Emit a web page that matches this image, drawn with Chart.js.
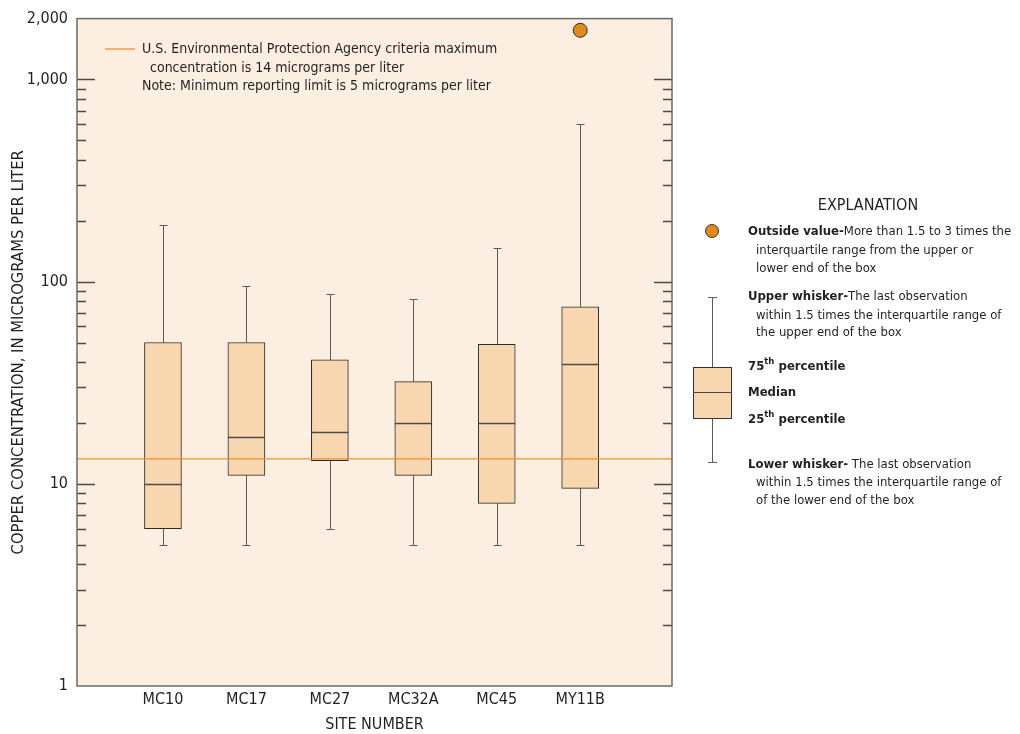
<!DOCTYPE html>
<html>
<head>
<meta charset="utf-8">
<script src="https://cdn.jsdelivr.net/npm/chart.js@4.4.0/dist/chart.umd.min.js"></script>
<style>
  html, body { margin: 0; padding: 0; background: #ffffff; }
  #wrap { width: 1020px; height: 734px; position: relative; }
</style>
</head>
<body>
<div id="wrap"><canvas id="grafico"></canvas></div>
<script>
// dados
const sites = ['MC10', 'MC17', 'MC27', 'MC32A', 'MC45', 'MY11B']
const whiskerLow = [5, 5, 6, 5, 5, 5]
const q1 = [6, 11, 13, 11, 8, 9.5]
const median = [10, 17, 18, 20, 20, 39]
const q3 = [50, 50, 41, 32, 49, 75]
const whiskerHigh = [190, 95, 87, 82, 147, 600]
const outlierSite = [6]
const outlierValue = [1750]
const criteria = 13.3
const yLabels = [1, 10, 100, 1000, 2000]

const FONT = '"Liberation Sans Narrow", "DejaVu Sans Condensed", "Roboto", sans-serif'
const TEXT = '#231f20'
const ORANGE = '#e8952c'

Chart.defaults.font.family = FONT
Chart.defaults.color = TEXT

const canvas = document.getElementById('grafico')

// pontos das caixas
const boxData = sites.map((s, i) => ({ x: i + 1, y: [q1[i], q3[i]] }))
const outData = outlierSite.map((s, i) => ({ x: s, y: outlierValue[i] }))

// fundo da area do grafico
const fundo = {
    id: 'fundo',
    beforeDraw(chart) {
        const { ctx, chartArea: a } = chart
        ctx.save()
        ctx.fillStyle = '#fcefe2'
        ctx.fillRect(a.left, a.top, a.right - a.left, a.bottom - a.top)
        ctx.restore()
    }
}

// bigodes e marcas dos eixos
const bigodes = {
    id: 'bigodes',
    beforeDatasetsDraw(chart) {
        const { ctx, scales: { x, y } } = chart
        ctx.save()
        ctx.strokeStyle = '#5a5a5a'
        ctx.lineWidth = 1
        sites.forEach((s, i) => {
            const cx = Math.round(x.getPixelForValue(i + 1)) + 0.5
            const lo = Math.round(y.getPixelForValue(whiskerLow[i])) + 0.5
            const hi = Math.round(y.getPixelForValue(whiskerHigh[i])) + 0.5
            const b = y.getPixelForValue(q1[i])
            const t = y.getPixelForValue(q3[i])
            ctx.beginPath()
            ctx.moveTo(cx, hi); ctx.lineTo(cx, t)
            ctx.moveTo(cx, b); ctx.lineTo(cx, lo)
            ctx.moveTo(cx - 4, hi); ctx.lineTo(cx + 4, hi)
            ctx.moveTo(cx - 4, lo); ctx.lineTo(cx + 4, lo)
            ctx.stroke()
        })
        ctx.restore()
    },
    afterDatasetsDraw(chart) {
        const { ctx, chartArea: a, scales: { x, y } } = chart
        ctx.save()
        // medianas
        ctx.strokeStyle = '#4a4a4a'
        ctx.lineWidth = 1.5
        sites.forEach((s, i) => {
            const cx = x.getPixelForValue(i + 1)
            const m = Math.round(y.getPixelForValue(median[i])) + 0.5
            ctx.beginPath()
            ctx.moveTo(cx - 18.5, m); ctx.lineTo(cx + 18.5, m)
            ctx.stroke()
        })
        // marcas internas do eixo y (esquerda e direita)
        ctx.strokeStyle = '#4a4a4a'
        ctx.lineWidth = 1.3
        for (let d = 1; d <= 1000; d *= 10) {
            for (let k = 1; k <= 9; k++) {
                const v = d * k
                if (v <= 1 || v >= 2000) continue
                const py = Math.round(y.getPixelForValue(v)) + 0.5
                const len = k === 1 ? 18 : 9
                ctx.beginPath()
                ctx.moveTo(a.left, py); ctx.lineTo(a.left + len, py)
                ctx.moveTo(a.right, py); ctx.lineTo(a.right - len, py)
                ctx.stroke()
            }
        }
        // borda
        ctx.strokeStyle = '#6a6a6a'
        ctx.lineWidth = 1.5
        ctx.strokeRect(a.left, a.top, a.right - a.left, a.bottom - a.top)

        // nota dentro do grafico
        ctx.strokeStyle = ORANGE
        ctx.lineWidth = 1.3
        ctx.beginPath(); ctx.moveTo(105, 49); ctx.lineTo(135, 49); ctx.stroke()
        ctx.fillStyle = TEXT
        ctx.font = '14px ' + FONT
        ctx.textBaseline = 'middle'
        ctx.fillText('U.S. Environmental Protection Agency criteria maximum', 142, 49)
        ctx.fillText('concentration is 14 micrograms per liter', 150, 68)
        ctx.fillText('Note: Minimum reporting limit is 5 micrograms per liter', 142, 86)
        ctx.restore()
    }
}

// explicacao a direita
function mixed(ctx, parts, x, y) {
    let px = x
    parts.forEach(p => {
        const size = p.sup ? 9.5 : 13
        ctx.font = (p.bold ? 'bold ' : '') + size + 'px ' + FONT
        ctx.fillText(p.t, px, p.sup ? y - 5 : y)
        px += ctx.measureText(p.t).width
    })
}

const explicacao = {
    id: 'explicacao',
    afterDraw(chart) {
        const { ctx } = chart
        ctx.save()
        ctx.fillStyle = TEXT
        ctx.textBaseline = 'middle'
        ctx.textAlign = 'center'
        ctx.font = '16px ' + FONT
        ctx.fillText('EXPLANATION', 868, 206)
        ctx.textAlign = 'left'

        // circulo
        ctx.beginPath()
        ctx.arc(712, 231, 6.5, 0, Math.PI * 2)
        ctx.fillStyle = '#e2891c'
        ctx.fill()
        ctx.strokeStyle = '#333'
        ctx.lineWidth = 1
        ctx.stroke()

        // caixa de exemplo
        ctx.strokeStyle = '#5a5a5a'
        ctx.beginPath()
        ctx.moveTo(712.5, 297.5); ctx.lineTo(712.5, 367)
        ctx.moveTo(708, 297.5); ctx.lineTo(717, 297.5)
        ctx.moveTo(712.5, 418); ctx.lineTo(712.5, 462.5)
        ctx.moveTo(708, 462.5); ctx.lineTo(717, 462.5)
        ctx.stroke()
        ctx.fillStyle = '#f8d6b0'
        ctx.fillRect(693, 367, 38, 51)
        ctx.strokeStyle = '#333'
        ctx.strokeRect(693.5, 367.5, 38, 51)
        ctx.strokeStyle = '#4a4a4a'
        ctx.beginPath(); ctx.moveTo(693.5, 392.5); ctx.lineTo(731.5, 392.5); ctx.stroke()

        ctx.fillStyle = TEXT
        mixed(ctx, [{ t: 'Outside value-', bold: true }, { t: 'More than 1.5 to 3 times the' }], 748, 232)
        mixed(ctx, [{ t: 'interquartile range from the upper or' }], 756, 251)
        mixed(ctx, [{ t: 'lower end of the box' }], 756, 269)

        mixed(ctx, [{ t: 'Upper whisker-', bold: true }, { t: 'The last observation' }], 748, 297)
        mixed(ctx, [{ t: 'within 1.5 times the interquartile range of' }], 756, 316)
        mixed(ctx, [{ t: 'the upper end of the box' }], 756, 333)

        mixed(ctx, [{ t: '75', bold: true }, { t: 'th', bold: true, sup: true }, { t: ' percentile', bold: true }], 748, 367)
        mixed(ctx, [{ t: 'Median', bold: true }], 748, 393)
        mixed(ctx, [{ t: '25', bold: true }, { t: 'th', bold: true, sup: true }, { t: ' percentile', bold: true }], 748, 420)

        mixed(ctx, [{ t: 'Lower whisker-', bold: true }, { t: ' The last observation' }], 748, 465)
        mixed(ctx, [{ t: 'within 1.5 times the interquartile range of' }], 756, 483)
        mixed(ctx, [{ t: 'of the lower end of the box' }], 756, 501)
        ctx.restore()
    }
}

const config = {
    data: {
        datasets: [
            {
                type: 'line',
                data: [{ x: -0.03, y: criteria }, { x: 7.1, y: criteria }],
                borderColor: ORANGE,
                borderWidth: 1.3,
                pointRadius: 0,
                order: 0,
            },
            {
                type: 'scatter',
                data: outData,
                pointRadius: 7,
                backgroundColor: '#e2891c',
                borderColor: '#333',
                borderWidth: 1,
                order: 0,
            },
            {
                type: 'bar',
                data: boxData,
                backgroundColor: '#f8d6b0',
                borderColor: '#2a2a2a',
                borderWidth: 1,
                borderSkipped: false,
                barThickness: 37,
                order: 2,
            },
        ]
    },
    options: {
        responsive: true,
        maintainAspectRatio: false,
        animation: false,
        layout: { padding: { top: 16, right: 348, left: 0, bottom: 0 } },
        plugins: { legend: { display: false }, tooltip: { enabled: false } },
        scales: {
            x: {
                type: 'linear',
                offset: false,
                min: -0.03,
                max: 7.1,
                grid: { display: false, drawTicks: false },
                border: { display: false },
                afterBuildTicks: (s) => { s.ticks = sites.map((n, i) => ({ value: i + 1 })) },
                afterFit: (s) => { s.height = 48 },
                ticks: {
                    padding: 4,
                    font: { size: 16 },
                    color: TEXT,
                    callback: (v) => sites[v - 1],
                },
                title: {
                    display: true,
                    text: 'SITE NUMBER',
                    font: { size: 16 },
                    color: TEXT,
                    padding: { top: 0, bottom: 0 },
                },
            },
            y: {
                type: 'logarithmic',
                min: 1,
                max: 2000,
                grid: { display: false, drawTicks: false },
                border: { display: false },
                afterBuildTicks: (s) => { s.ticks = yLabels.map(v => ({ value: v })) },
                afterFit: (s) => { s.width = 77 },
                ticks: {
                    padding: 9,
                    font: { size: 16 },
                    color: TEXT,
                    callback: (v) => v.toLocaleString('en-US'),
                },
                title: {
                    display: true,
                    text: 'COPPER CONCENTRATION, IN MICROGRAMS PER LITER',
                    font: { size: 16.5 },
                    color: TEXT,
                    padding: { top: 9, bottom: 0 },
                },
            },
        },
    },
    plugins: [fundo, bigodes, explicacao],
}

const chart = new Chart(canvas, config)
</script>
</body>
</html>
